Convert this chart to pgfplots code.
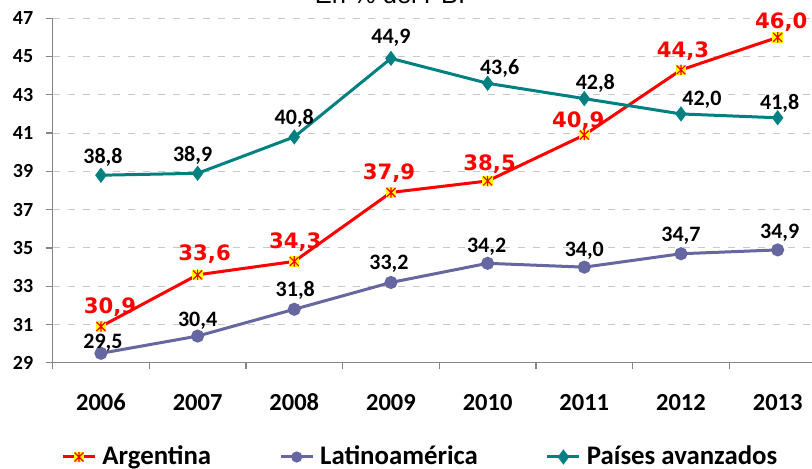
\documentclass[border=0pt]{standalone}
\usepackage{fontspec}
\setmainfont{Carlito}
\newfontfamily\dejavu{DejaVu Sans}
\newfontfamily\arialf{Liberation Sans}
\usepackage{pgfplots}
\pgfplotsset{compat=1.18}
\usepackage{pgfplotstable}

\definecolor{argred}{RGB}{255,0,0}
\definecolor{argyel}{RGB}{255,255,0}
\definecolor{latam}{RGB}{102,102,160}
\definecolor{tealc}{RGB}{0,128,128}
\definecolor{gridgray}{RGB}{200,200,200}
\definecolor{axgray}{RGB}{134,134,134}

\pgfdeclareplotmark{argmark}{%
  \pgfpathrectangle{\pgfpoint{-\pgfplotmarksize}{-\pgfplotmarksize}}{\pgfpoint{2\pgfplotmarksize}{2\pgfplotmarksize}}%
  \pgfsetfillcolor{argyel}\pgfusepathqfill
  \pgfsetstrokecolor{argred}\pgfsetlinewidth{0.6pt}%
  \pgfpathmoveto{\pgfpoint{-0.85\pgfplotmarksize}{-0.85\pgfplotmarksize}}\pgfpathlineto{\pgfpoint{0.85\pgfplotmarksize}{0.85\pgfplotmarksize}}%
  \pgfpathmoveto{\pgfpoint{-0.85\pgfplotmarksize}{0.85\pgfplotmarksize}}\pgfpathlineto{\pgfpoint{0.85\pgfplotmarksize}{-0.85\pgfplotmarksize}}%
  \pgfpathmoveto{\pgfpoint{0pt}{-\pgfplotmarksize}}\pgfpathlineto{\pgfpoint{0pt}{\pgfplotmarksize}}%
  \pgfusepathqstroke
}

% x = category index (0 = 2006), y = value, dx/dy = label offsets (pt)
\pgfplotstableread{
x y dx dy
0 30.9 4.5 6.5
1 33.6 3.5 7.25
2 34.3 0.5 6.25
3 37.9 -1 6.25
4 38.5 1 5
5 40.9 -3 4
6 44.3 1 6.25
7 46.0 1.75 4.25
}\argtab
\pgfplotstableread{
x y dx dy
0 29.5 1 2.5
1 30.4 0 4.9
2 31.8 0.5 6.25
3 33.2 -1 6.5
4 34.2 -0.5 5.25
5 34.0 0 5.25
6 34.7 0 6.1
7 34.9 1 5.75
}\latamtab
\pgfplotstableread{
x y dx dy
0 38.8 1 5.75
1 38.9 -2.5 5.75
2 40.8 0 6.25
3 44.9 0 7.25
4 43.6 6 4.5
5 42.8 5.5 4.5
6 42.0 10.5 4.25
7 41.8 1 4.25
}\avztab

\begin{document}
\begin{tikzpicture}
\useasboundingbox (0,0) rectangle (406pt,234.5pt);
\begin{axis}[
  at={(26.3pt,53.05pt)}, anchor=south west,
  scale only axis, width=386.7pt, height=172.35pt,
  xmin=-0.5, xmax=7.5, ymin=29, ymax=47,
  clip=false,
  axis x line*=bottom, axis y line*=left,
  axis line style={axgray, line width=0.6pt},
  tick style={axgray, line width=0.6pt},
  tick align=outside,
  xtick={0,...,7},
  xticklabels={2006,2007,2008,2009,2010,2011,2012,2013},
  major x tick style={draw=none},
  minor xtick={-0.5,0.5,...,7.5},
  minor tick length=3pt,
  ytick={29,31,...,47},
  major tick length=3.5pt,
  ymajorgrids,
  major grid style={gridgray, dash pattern=on 3.5pt off 4pt, line width=0.5pt},
  /pgf/number format/assume math mode=true,
  yticklabel style={font=\fontsize{10}{12}\selectfont\bfseries, inner sep=0pt, anchor=east, xshift=-6pt},
  xticklabel style={font=\fontsize{12.25}{14}\selectfont\bfseries, inner sep=0pt, anchor=base, yshift=-20.5pt},
  nodes near coords={\pgfmathprintnumber[fixed,fixed zerofill,precision=1,use comma,assume math mode=true]{\pgfplotspointmeta}},
  point meta=y,
  visualization depends on={\thisrow{dx}\as\dx},
  visualization depends on={\thisrow{dy}\as\dy},
  legend columns=3,
  legend style={at={(axis description cs:0.0109,-0.273)}, anchor=west, draw=none, fill=none, inner sep=0pt,
    font=\fontsize{13.4}{15}\selectfont\bfseries,
    nodes={inner sep=0pt},
    /tikz/every odd column/.append style={column sep=3pt},
    /tikz/every even column/.append style={column sep=34pt}},
]
\addplot[argred, line width=1.5pt, mark=argmark, mark size=2.6pt,
  nodes near coords style={anchor=base, inner sep=0pt, xshift=\dx pt, yshift=\dy pt, text=argred,
    font=\dejavu\fontsize{10.6}{12}\selectfont\bfseries},
  legend image code/.code={\draw[mark repeat=2,mark phase=2] plot coordinates {(0pt,0pt)(8pt,0pt)(16pt,0pt)};}]
  table[x=x,y=y]{\argtab};
\addlegendentry{Argentina}
\addplot[latam, line width=1.5pt, mark=*, mark size=2.5pt,
  nodes near coords style={anchor=base, inner sep=0pt, xshift=\dx pt, yshift=\dy pt, text=black,
    font=\fontsize{11}{12}\selectfont\bfseries},
  legend image code/.code={\draw[mark repeat=2,mark phase=2,mark size=2pt] plot coordinates {(0pt,0pt)(8pt,0pt)(16pt,0pt)};}]
  table[x=x,y=y]{\latamtab};
\addlegendentry{Latinoamérica}
\addplot[tealc, line width=1.5pt, mark=diamond*, mark size=2.6pt,
  nodes near coords style={anchor=base, inner sep=0pt, xshift=\dx pt, yshift=\dy pt, text=black,
    font=\fontsize{11}{12}\selectfont\bfseries},
  legend image code/.code={\draw[mark repeat=2,mark phase=2] plot coordinates {(0pt,0pt)(8pt,0pt)(16pt,0pt)};}]
  table[x=x,y=y]{\avztab};
\addlegendentry{Países avanzados}
\end{axis}
\node[anchor=base, font=\arialf\fontsize{12.75}{14}\selectfont, inner sep=0pt] at (195pt,232.5pt) {En \% del PBI};
\end{tikzpicture}
\end{document}
